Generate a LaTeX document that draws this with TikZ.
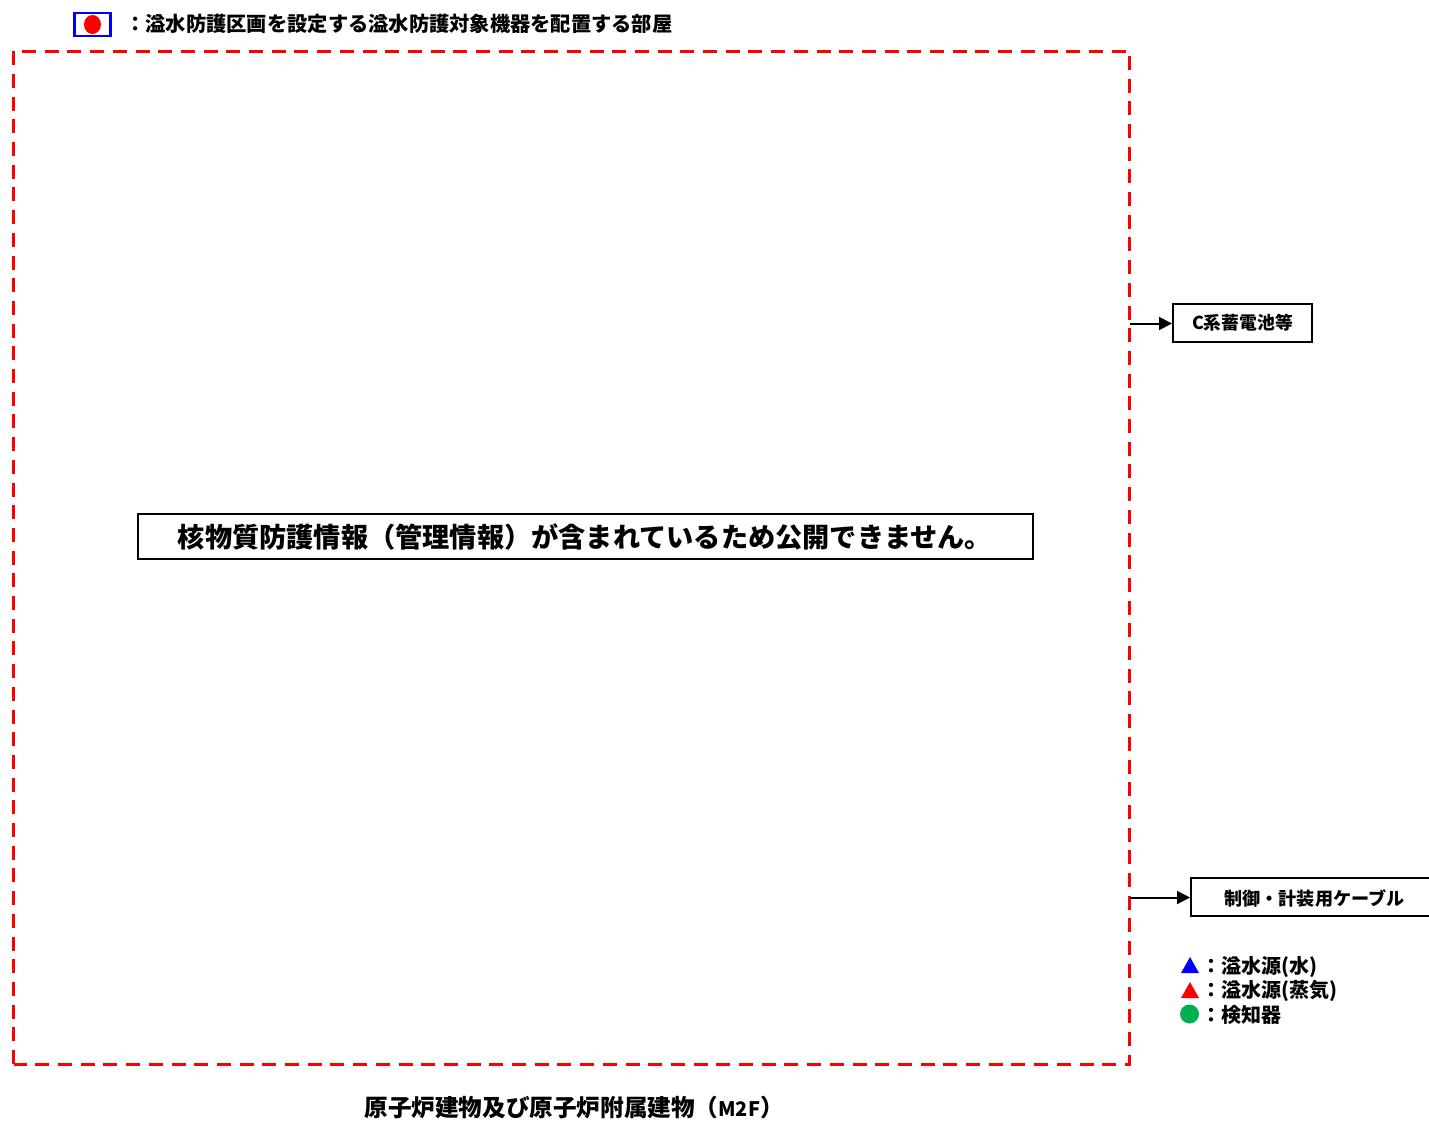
\documentclass[tikz,border=0pt]{standalone}
\usepackage{fontspec}
\setmainfont{Noto Sans CJK JP}
\usetikzlibrary{arrows.meta,shapes.geometric}
\definecolor{grn}{RGB}{0,176,80}
\tikzset{
  px/.style={x=0.5pt,y=-0.5pt},
  labelbox/.style={draw=black,line width=1pt,fill=white,inner sep=0pt,font=\bfseries\fontsize{8.9pt}{10pt}\selectfont},
  txt/.style={inner sep=0pt,font=\bfseries\fontsize{10pt}{11pt}\selectfont,anchor=west},
  conn/.style={draw=black,line width=1pt,-{Triangle[length=6.5pt,width=6.5pt]}}
}
\begin{document}
\begin{tikzpicture}[px]
\useasboundingbox (0,0) rectangle (1429,1121);
% dashed frame
\draw[red,line width=1.5pt,dash pattern=on 7pt off 4.35pt] (13.5,1064) -- (13.5,51) -- (1129.5,51) -- (1129.5,1064) -- cycle;
% legend top
\node[draw=blue,line width=1.1pt,minimum width=18pt,minimum height=11.5pt,inner sep=0pt] (lkey) at (92.5,24.5) {};
\fill[red] (lkey.center) ellipse (8.5 and 9.5);
\node[txt,font=\bfseries\fontsize{10.13pt}{12pt}\selectfont] (ltext) at (125,24) {：溢水防護区画を設定する溢水防護対象機器を配置する部屋};
% central notice
\node[draw=black,line width=1pt,minimum width=447.5pt,minimum height=22.5pt,inner sep=0pt,font=\bfseries\fontsize{13.6pt}{15pt}\selectfont] (notice) at (585,536.5) {\raisebox{-2pt}{核物質防護情報（管理情報）が含まれているため公開できません。}};
% side boxes
\node[labelbox,minimum width=69.5pt,minimum height=19pt] (cbat) at (1242.5,322.5) {C系蓄電池等};
\node[labelbox,minimum width=120pt,minimum height=19pt,anchor=west] (cable) at (1190,897) {};
\node[inner sep=0pt,font=\bfseries\fontsize{9.05pt}{10pt}\selectfont] (cabletext) at (1314.5,898.5) {制御・計装用ケーブル};
\coordinate (f1) at (1130,323.5);
\coordinate (f2) at (1130,897.5);
\draw[conn] (f1) -- (f1 -| cbat.west);
\draw[conn] (f2) -- (f2 -| cable.west);
% symbol legend
\fill[blue] (1181,973) -- (1190,957) -- (1199,973) -- cycle;
\fill[red] (1181,998) -- (1190,982) -- (1199,998) -- cycle;
\fill[grn] (1189.5,1014) circle (9.5);
\node[txt] (l1) at (1201,966.5) {：溢水源(水)};
\node[txt] (l2) at (1201,991) {：溢水源(蒸気)};
\node[txt] (l3) at (1201,1014.5) {：検知器};
% caption
\node[inner sep=0pt,font=\bfseries\fontsize{11.8pt}{13pt}\selectfont,anchor=west] (cap) at (364,1108) {原子炉建物及び原子炉附属建物（{\fontsize{10pt}{13pt}\selectfont M2F}）};
\end{tikzpicture}
\end{document}
